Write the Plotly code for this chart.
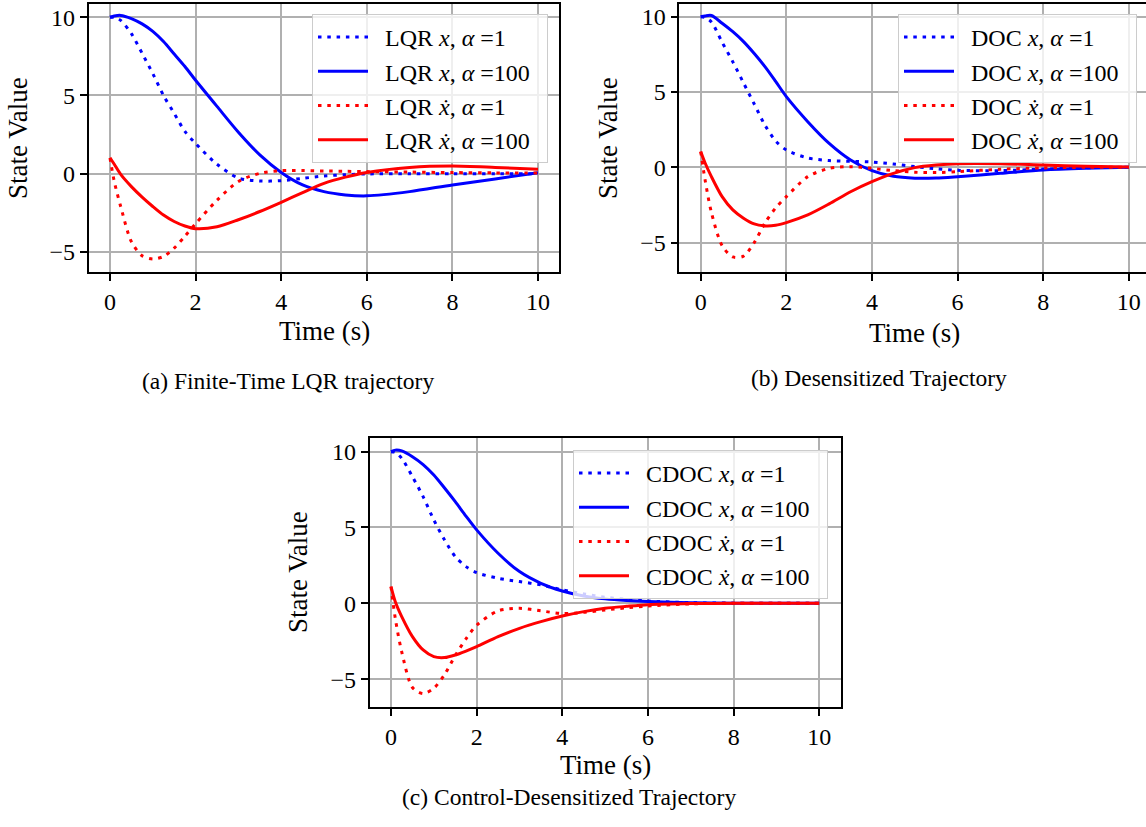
import plotly.graph_objects as go

W, H = 1146, 827

# ---------------- data ----------------
time_s = [0, 0.1, 0.25, 0.5, 0.75, 1, 1.25, 1.5, 1.75, 2, 2.5, 3, 3.5, 4, 4.5, 5, 5.5, 6, 7, 8, 9, 10]

lqr_x_a1 = [10, 10.0, 9.8, 8.95, 7.7, 6.4, 5.0, 3.85, 2.7, 1.93, 0.6, -0.28, -0.47, -0.45, -0.3, -0.15, -0.07, -0.02, 0, 0, 0, 0]
lqr_x_a100 = [10, 10.08, 10.12, 9.92, 9.58, 9.1, 8.45, 7.65, 6.85, 5.97, 4.3, 2.65, 1.2, 0.08, -0.72, -1.15, -1.36, -1.42, -1.15, -0.72, -0.34, 0.06]
lqr_xd_a1 = [1.0, -0.5, -2.1, -4.35, -5.25, -5.46, -5.3, -4.76, -4.0, -3.2, -1.7, -0.5, 0.02, 0.19, 0.2, 0.17, 0.15, 0.13, 0.1, 0.07, 0.05, 0.04]
lqr_xd_a100 = [1.02, 0.6, -0.05, -0.83, -1.5, -2.1, -2.65, -3.06, -3.35, -3.52, -3.4, -2.95, -2.42, -1.83, -1.21, -0.62, -0.22, 0.08, 0.4, 0.49, 0.4, 0.28]

doc_x_a1 = [10, 9.95, 9.65, 8.3, 7.0, 5.6, 4.2, 2.8, 1.75, 1.15, 0.62, 0.45, 0.4, 0.35, 0.22, 0.05, -0.1, -0.2, -0.22, -0.12, -0.03, 0]
doc_x_a100 = [10, 10.05, 10.08, 9.56, 9.0, 8.34, 7.55, 6.68, 5.7, 4.69, 3.03, 1.59, 0.49, -0.22, -0.6, -0.72, -0.71, -0.62, -0.4, -0.18, -0.07, 0]
doc_xd_a1 = [1.04, -0.8, -3.0, -5.2, -5.95, -5.9, -5.0, -3.7, -2.7, -1.95, -0.62, -0.07, 0.04, -0.07, -0.22, -0.33, -0.35, -0.29, -0.13, -0.04, 0, 0]
doc_xd_a100 = [1.04, 0.3, -0.62, -1.95, -2.83, -3.38, -3.76, -3.89, -3.85, -3.67, -3.16, -2.43, -1.62, -0.95, -0.4, -0.02, 0.15, 0.24, 0.24, 0.15, 0.07, 0.02]

cdoc_x_a1 = [10, 9.95, 9.56, 8.35, 7.03, 5.49, 4.18, 3.08, 2.42, 2.02, 1.65, 1.43, 1.21, 0.88, 0.62, 0.4, 0.26, 0.15, 0.04, 0.01, 0, 0]
cdoc_x_a100 = [10, 10.1, 10.05, 9.67, 9.15, 8.46, 7.6, 6.7, 5.75, 4.84, 3.3, 2.09, 1.32, 0.81, 0.48, 0.29, 0.18, 0.11, 0.04, 0.01, 0, 0]
cdoc_xd_a1 = [1.1, -1.0, -3.2, -5.55, -5.95, -5.6, -4.7, -3.45, -2.35, -1.45, -0.5, -0.33, -0.5, -0.68, -0.6, -0.44, -0.3, -0.18, -0.04, 0, 0, 0]
cdoc_xd_a100 = [1.1, 0.1, -0.88, -2.2, -3.08, -3.52, -3.58, -3.41, -3.15, -2.86, -2.2, -1.65, -1.21, -0.84, -0.55, -0.33, -0.2, -0.09, -0.02, 0, 0, 0]

x_ticks = [0, 2, 4, 6, 8, 10]
y_ticks = [-5, 0, 5, 10]

captions = ["(a) Finite-Time LQR trajectory", "(b) Desensitized Trajectory", "(c) Control-Desensitized Trajectory"]
methods = ["LQR", "DOC", "CDOC"]

# ---------------- styling / layout ----------------
FONT = "Liberation Serif"
BLUE, RED = "#0000ff", "#ff0000"
LW = 3
DOT = "3.5px,5.8px"
TICK_SIZE = 24
LEG_SIZE = 24
TITLE_SIZE = 27
CAP_SIZE = 23.5

def px_x(p):
    return p / W

def px_y(p):
    return 1 - p / H

panels = [
    dict(xa="x", ya="y", legend="legend",
         xdom=[88.6, 559.4], ydom=[272, 4], xr=[-0.5, 10.5], yr=[-6.29, 10.85],
         series=[lqr_x_a1, lqr_x_a100, lqr_xd_a1, lqr_xd_a100],
         leg=(548, 14), ytitle=(18, 138), xtitle=(324, 331), cap=(288, 381), mirror_y=True),
    dict(xa="x2", ya="y2", legend="legend2",
         xdom=[679.3, 1146], ydom=[272, 4], xr=[-0.5, 10.40], yr=[-6.95, 10.84],
         series=[doc_x_a1, doc_x_a100, doc_xd_a1, doc_xd_a100],
         leg=(1137, 14), ytitle=(608, 138), xtitle=(914, 333), cap=(879, 378), mirror_y=False),
    dict(xa="x3", ya="y3", legend="legend3",
         xdom=[369.6, 840.7], ydom=[707, 438], xr=[-0.5, 10.5], yr=[-6.84, 10.9],
         series=[cdoc_x_a1, cdoc_x_a100, cdoc_xd_a1, cdoc_xd_a100],
         leg=(828, 450), ytitle=(298, 572), xtitle=(605, 765), cap=(569, 797), mirror_y=True),
]

fig = go.Figure()
layout = dict(
    width=W, height=H,
    margin=dict(l=0, r=0, t=0, b=0),
    paper_bgcolor="white", plot_bgcolor="white",
    font=dict(family=FONT, size=TICK_SIZE, color="black"),
    showlegend=True,
    annotations=[],
)

for i, p in enumerate(panels):
    m = methods[i]
    lead = "&nbsp;&nbsp;"
    tail = "&nbsp;&nbsp;"
    names = [
        f"{lead}{m} <i>x</i>, <i>α</i> =1{tail}",
        f"{lead}{m} <i>x</i>, <i>α</i> =100{tail}",
        f"{lead}{m} <i>ẋ</i>, <i>α</i> =1{tail}",
        f"{lead}{m} <i>ẋ</i>, <i>α</i> =100{tail}",
    ]
    colors = [BLUE, BLUE, RED, RED]
    dashes = [DOT, "solid", DOT, "solid"]
    for ys, nm, c, d in zip(p["series"], names, colors, dashes):
        fig.add_trace(go.Scatter(
            x=time_s, y=ys, mode="lines", name=nm,
            line=dict(color=c, width=LW, dash=d, shape="spline", smoothing=0.8),
            xaxis=p["xa"], yaxis=p["ya"], legend=p["legend"],
        ))

    sfx = "" if i == 0 else str(i + 1)
    layout["xaxis" + sfx] = dict(
        domain=[px_x(p["xdom"][0]), px_x(p["xdom"][1])],
        anchor=p["ya"], range=p["xr"], tickvals=x_ticks,
        showgrid=True, gridcolor="#b0b0b0", gridwidth=1.5, zeroline=False,
        showline=True, linecolor="black", linewidth=1.5, mirror=True,
        ticks="outside", ticklen=7, tickwidth=1.5, tickcolor="black",
        tickfont=dict(family=FONT, size=TICK_SIZE), automargin=False,
    )
    layout["yaxis" + sfx] = dict(
        domain=[px_y(p["ydom"][0]), px_y(p["ydom"][1])],
        anchor=p["xa"], range=p["yr"], tickvals=y_ticks,
        showgrid=True, gridcolor="#b0b0b0", gridwidth=1.5, zeroline=False,
        showline=True, linecolor="black", linewidth=1.5, mirror=p["mirror_y"],
        ticks="outside", ticklen=7, tickwidth=1.5, tickcolor="black",
        tickfont=dict(family=FONT, size=TICK_SIZE), automargin=False,
    )
    layout[p["legend"]] = dict(
        x=px_x(p["leg"][0]), y=px_y(p["leg"][1]), xanchor="right", yanchor="top",
        bgcolor="rgba(255,255,255,0.8)", bordercolor="#cccccc", borderwidth=1,
        font=dict(family=FONT, size=LEG_SIZE, color="black"),
        itemwidth=50, tracegroupgap=0,
    )
    layout["annotations"] += [
        dict(text="State Value", x=px_x(p["ytitle"][0]), y=px_y(p["ytitle"][1]),
             xref="paper", yref="paper", showarrow=False, textangle=-90,
             xanchor="center", yanchor="middle", font=dict(family=FONT, size=TITLE_SIZE)),
        dict(text="Time (s)", x=px_x(p["xtitle"][0]), y=px_y(p["xtitle"][1]),
             xref="paper", yref="paper", showarrow=False,
             xanchor="center", yanchor="middle", font=dict(family=FONT, size=TITLE_SIZE)),
        dict(text=captions[i], x=px_x(p["cap"][0]), y=px_y(p["cap"][1]),
             xref="paper", yref="paper", showarrow=False,
             xanchor="center", yanchor="middle", font=dict(family=FONT, size=CAP_SIZE)),
    ]

fig.update_layout(**layout)
fig.write_html("out.html")
